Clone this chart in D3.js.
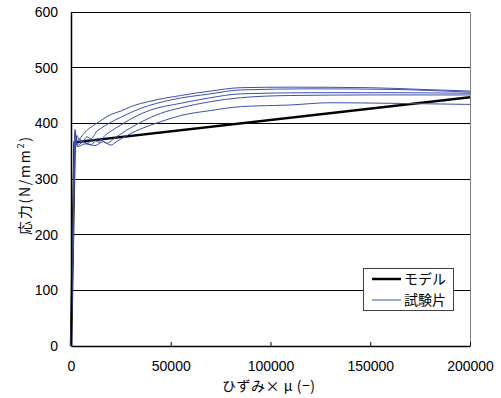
<!DOCTYPE html>
<html>
<head>
<meta charset="utf-8">
<script src="https://cdn.jsdelivr.net/npm/d3@7"></script>
<style>
  html, body { margin: 0; padding: 0; background: #fff; }
  svg text { fill: #000; }
  .num { font-family: "Liberation Sans", Arial, sans-serif; }
  .jp { font-family: "Noto Sans CJK JP", "Liberation Sans", sans-serif; }
</style>
</head>
<body>
<svg id="chart" width="501" height="398"></svg>
<script>
// Axis ticks
const xTicks = [0, 50000, 100000, 150000, 200000];
const yTicks = [0, 100, 200, 300, 400, 500, 600];

// Bilinear model (strain ×10^-6, stress N/mm²)
const modelStrain = [0, 1800, 200000];
const modelStress = [0, 366, 447];

// Measured specimen curves [strain, stress]
const specimen1 = [[0,0],[600,120],[1200,250],[1700,350],[2000,389],[2400,372],[3000,378],[4000,371],[5000,375],[7000,384],[10000,393],[15000,405],[20000,416],[25000,422],[30000,430],[40000,440],[55000,450],[70000,458],[85000,464],[110000,465],[150000,464],[175000,461],[200000,458]];
const specimen2 = [[0,0],[700,130],[1300,260],[1800,365],[2100,382],[2600,366],[4000,372],[6000,368],[8000,376],[10000,372],[13000,386],[15000,391],[20000,402],[25000,411],[35000,427],[50000,442],[70000,453],[85000,460],[120000,462],[160000,461],[200000,456]];
const specimen3 = [[0,0],[800,150],[1500,290],[1900,375],[2200,386],[2700,362],[5000,368],[8000,364],[11000,371],[14000,366],[17000,378],[20000,386],[25000,397],[30000,408],[40000,424],[55000,436],[70000,446],[85000,453],[120000,455],[160000,455],[200000,454]];
const specimen4 = [[0,0],[900,170],[1600,310],[2000,372],[2300,380],[3000,360],[6000,366],[10000,362],[14000,373],[18000,364],[21000,371],[23000,376],[25000,381],[35000,402],[45000,418],[55000,428],[70000,439],[85000,446],[110000,450],[150000,451],[200000,451]];
const specimen5 = [[0,0],[1000,190],[1700,330],[2100,368],[2500,376],[3200,358],[7000,363],[12000,360],[16000,367],[20000,361],[22000,365],[25000,372],[35000,390],[45000,403],[55000,414],[70000,423],[85000,430],[110000,433],[130000,437],[160000,436],[200000,434]];
const specimens = [specimen1, specimen2, specimen3, specimen4, specimen5];

const legendLabels = ["モデル", "試験片"];

const svg = d3.select("#chart");
const margin = { left: 71, top: 12, right: 31, bottom: 52 };
const W = 501, H = 398;
const x = d3.scaleLinear().domain([0, 200000]).range([margin.left, W - margin.right]);
const y = d3.scaleLinear().domain([0, 600]).range([H - margin.bottom, margin.top]);

const blue = "#3c50ad";

// Horizontal gridlines
svg.append("g")
  .selectAll("line")
  .data(yTicks.filter(d => d > 0))
  .join("line")
  .attr("x1", x(0)).attr("x2", x(200000))
  .attr("y1", d => y(d)).attr("y2", d => y(d))
  .attr("stroke", "#000").attr("stroke-width", 1)
  .attr("shape-rendering", "crispEdges");

// Right frame
svg.append("line")
  .attr("x1", x(200000)).attr("x2", x(200000))
  .attr("y1", y(600)).attr("y2", y(0))
  .attr("stroke", "#808080").attr("shape-rendering", "crispEdges");

// Model line (first series, drawn underneath)
const modelPts = modelStrain.map((s, i) => [s, modelStress[i]]);
svg.append("path")
  .attr("d", d3.line().x(d => x(d[0])).y(d => y(d[1]))(modelPts))
  .attr("fill", "none")
  .attr("stroke", "#000")
  .attr("stroke-width", 2.5);

// Specimen curves
const line = d3.line().x(d => x(d[0])).y(d => y(d[1])).curve(d3.curveMonotoneX);
svg.append("g")
  .selectAll("path")
  .data(specimens)
  .join("path")
  .attr("d", line)
  .attr("fill", "none")
  .attr("stroke", blue)
  .attr("stroke-width", 1);

// X axis
const xAxis = d3.axisBottom(x).tickValues(xTicks).tickSizeInner(-4).tickSizeOuter(0).tickFormat(d3.format("d")).tickPadding(15);
const gx = svg.append("g").attr("transform", `translate(0,${y(0)})`).call(xAxis);
gx.select(".domain").attr("stroke", "#000").attr("stroke-width", 1.5);
gx.selectAll(".tick line").attr("stroke", "#000");
gx.selectAll("text").attr("class", "num").attr("font-size", 14).attr("font-family", null);

// Y axis
const yAxis = d3.axisLeft(y).tickValues(yTicks).tickSize(0).tickPadding(13).tickFormat(d3.format("d"));
const gy = svg.append("g").attr("transform", `translate(${x(0)},0)`).call(yAxis);
gy.select(".domain").attr("stroke", "#000").attr("stroke-width", 1.5);
gy.selectAll("text").attr("class", "num").attr("font-size", 14).attr("font-family", null);

// Axis titles
svg.append("text")
  .attr("class", "jp")
  .attr("x", 222).attr("y", 391)
  .attr("font-size", 14)
  .attr("textLength", 93).attr("lengthAdjust", "spacing")
  .text("ひずみ× μ (−)");

const yt = svg.append("text")
  .attr("class", "jp")
  .attr("transform", `translate(30,235) rotate(-90)`)
  .attr("font-size", 14)
  .attr("textLength", 98).attr("lengthAdjust", "spacing");
yt.append("tspan").text("応力(N/mm");
yt.append("tspan").attr("font-size", 9).attr("dy", -6).text("2");
yt.append("tspan").attr("dy", 6).text(")");

// Legend
const lg = svg.append("g");
lg.append("rect")
  .attr("x", 363.5).attr("y", 268.5).attr("width", 90).attr("height", 42)
  .attr("fill", "#fff").attr("stroke", "#404040").attr("stroke-width", 1);
const legendStyles = [{ color: "#000", w: 2.5 }, { color: blue, w: 1 }];
legendLabels.forEach((lab, i) => {
  const ly = 279 + i * 21;
  lg.append("line")
    .attr("x1", 372).attr("x2", 401).attr("y1", ly).attr("y2", ly)
    .attr("stroke", legendStyles[i].color).attr("stroke-width", legendStyles[i].w);
  lg.append("text")
    .attr("class", "jp")
    .attr("x", 404).attr("y", ly).attr("dy", "0.36em")
    .attr("font-size", 14)
    .text(lab);
});
</script>
</body>
</html>
